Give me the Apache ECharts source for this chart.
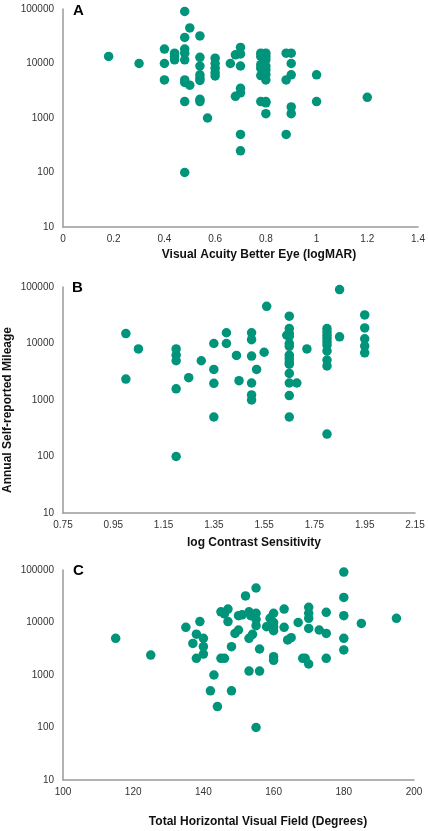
<!DOCTYPE html>
<html>
<head>
<meta charset="utf-8">
<script src="https://cdn.jsdelivr.net/npm/echarts@6/dist/echarts.min.js"></script>
<style>
html,body{margin:0;padding:0;background:#fff;}
#chart{width:428px;height:831px;}
</style>
</head>
<body>
<div id="chart"></div>
<script>
// Panel A: Visual acuity (logMAR) vs annual mileage
var acuityX = [0.18,0.30,0.40,0.40,0.40,0.44,0.44,0.44,0.48,0.48,0.48,0.48,0.48,0.48,0.48,0.48,0.48,0.50,0.50,0.54,0.54,0.54,0.54,0.54,0.54,0.54,0.54,0.57,0.60,0.60,0.60,0.60,0.60,0.66,0.68,0.68,0.70,0.70,0.70,0.70,0.70,0.70,0.70,0.78,0.78,0.78,0.78,0.78,0.78,0.80,0.80,0.80,0.80,0.80,0.80,0.80,0.80,0.80,0.80,0.88,0.88,0.88,0.90,0.90,0.90,0.90,0.90,1.00,1.00,1.20];
var acuityMiles = [13500,10000,18400,10000,5000,15500,13500,11700,90000,30000,18400,15500,11700,5000,4500,2000,100,45000,4000,32000,13000,9000,6200,5400,4900,2200,2000,1000,12500,10000,8200,6800,5900,10000,14400,2500,19700,15000,9000,3500,2900,500,250,15500,13500,9500,8200,6000,2000,15500,13500,11700,9000,7700,6300,5000,2000,1900,1200,15500,5000,500,15500,10000,6200,1600,1200,6200,2000,2400];

// Panel B: log contrast sensitivity vs annual mileage
var contrastX = [1.00,1.00,1.05,1.20,1.20,1.20,1.20,1.20,1.25,1.30,1.35,1.35,1.35,1.35,1.40,1.40,1.44,1.45,1.50,1.50,1.50,1.50,1.50,1.50,1.52,1.55,1.56,1.65,1.65,1.65,1.64,1.65,1.65,1.65,1.65,1.65,1.65,1.65,1.65,1.65,1.65,1.65,1.68,1.72,1.80,1.80,1.80,1.80,1.80,1.80,1.80,1.80,1.80,1.80,1.85,1.85,1.95,1.95,1.95,1.95,1.95];
var contrastMiles = [15000,2350,8000,8000,6200,4950,1580,100,2480,4950,10000,3480,1970,500,15500,10000,6150,2200,15500,11700,6000,2000,1230,1000,3480,7000,45600,30400,18400,15000,14000,13500,10000,8900,6200,5400,4700,4300,2950,2000,1200,500,2000,8000,18400,16000,14000,12300,10700,9400,7400,5080,4000,250,90000,13100,32000,18900,12100,9000,6850];
var contrastTicks = [0.75,0.95,1.15,1.35,1.55,1.75,1.95,2.15];

// Panel C: total horizontal visual field vs annual mileage
var fieldX = [115,125,135,139,138,137,140,140,140,138,143,142,144,148,155,145,147,146,147,145,146,148,149,150,150,151,153,155,153.5,155,155,152,155,153,154,156,153,156,159,160,158,160,160,160,160,160,163,163,164,165,167,168.3,169,170,170,170,170,170,173,175,175,175,180,180,180,180,180,185,195];
var fieldMiles = [5000,2400,8100,10400,6000,4000,5000,3470,2500,2080,1000,500,250,500,100,16000,18000,14600,10400,2080,2080,3460,6200,7200,13500,14000,16000,15000,13500,11500,8700,32000,45400,5000,5950,3130,1190,1190,12000,15000,8300,8300,7000,10000,2230,1900,18000,8100,4650,5130,10000,2080,2080,1620,19500,15000,12000,7700,7200,15600,6200,2080,91500,30000,13500,5000,3000,9600,12000];

var panelLetters = ['A','B','C'];
var xTitles = ['Visual Acuity Better Eye (logMAR)','log Contrast Sensitivity','Total Horizontal Visual Field (Degrees)'];
var yTitle = 'Annual Self-reported Mileage';

function zip(xs, ys){ return xs.map(function(x,i){ return [x, ys[i]]; }); }

var FONT = "'Liberation Sans', Arial, sans-serif";
var DOT = '#00947A';
var AXIS = '#9a9a9a';
var LBL = '#333333';

var grids = [
  {left:63, top:9, width:355, height:218},
  {left:63, top:287, width:352, height:226},
  {left:63, top:570, width:351, height:210}
];
grids.forEach(function(g){ g.outerBoundsMode='none'; g.containLabel=false; });

function fmtNum(v){ return String(+(+v).toFixed(2)); }

function xAxisBase(i){
  return {
    gridIndex:i, type:'value',
    axisLine:{show:true, onZero:false, lineStyle:{color:AXIS, width:1.5}},
    axisTick:{show:false}, splitLine:{show:false},
    axisLabel:{color:LBL, fontSize:10, fontFamily:FONT, margin:7, formatter:fmtNum}
  };
}
var xA = xAxisBase(0); xA.min=0; xA.max=1.4; xA.interval=0.2;
var xB = xAxisBase(1); xB.min=0.75; xB.max=2.15; xB.axisLabel.customValues=contrastTicks; xB.axisLabel.showMinLabel=true; xB.axisLabel.showMaxLabel=true;
var xC = xAxisBase(2); xC.min=100; xC.max=200; xC.interval=20;

function yAxisBase(i){
  return {
    gridIndex:i, type:'log', logBase:10, min:10, max:100000,
    axisLine:{show:true, onZero:false, lineStyle:{color:AXIS, width:1.5}},
    axisTick:{show:false}, splitLine:{show:false},
    axisLabel:{color:LBL, fontSize:10, fontFamily:FONT, margin:9, formatter:function(v){return String(Math.round(v));}}
  };
}

function series(i, xs, ys){
  return {type:'scatter', xAxisIndex:i, yAxisIndex:i, data:zip(xs,ys), symbol:'circle', symbolSize:9.5,
    itemStyle:{color:DOT, opacity:1}, emphasis:{disabled:true}, silent:true, animation:false};
}

var titleCenters = [[259,255],[254,543],[258,822]];
var letterPos = [[73,11],[72,288],[73,571]];
var graphics = [];
xTitles.forEach(function(t,i){
  graphics.push({type:'text', left:null, x:titleCenters[i][0], y:titleCenters[i][1],
    style:{text:t, fill:'#111', font:"bold 12px "+FONT, textAlign:'center', textVerticalAlign:'middle'}});
});
panelLetters.forEach(function(t,i){
  graphics.push({type:'text', x:letterPos[i][0], y:letterPos[i][1],
    style:{text:t, fill:'#000', font:"bold 15px "+FONT, textAlign:'left', textVerticalAlign:'middle'}});
});
graphics.push({type:'text', x:8, y:410, rotation:Math.PI/2,
  style:{text:yTitle, fill:'#111', font:"bold 12px "+FONT, textAlign:'center', textVerticalAlign:'middle'}});

var chart = echarts.init(document.getElementById('chart'), null, {renderer:'canvas'});
chart.setOption({
  animation:false,
  backgroundColor:'#ffffff',
  grid:grids,
  xAxis:[xA,xB,xC],
  yAxis:[yAxisBase(0),yAxisBase(1),yAxisBase(2)],
  series:[series(0,acuityX,acuityMiles),series(1,contrastX,contrastMiles),series(2,fieldX,fieldMiles)],
  graphic:graphics
});
</script>
</body>
</html>
